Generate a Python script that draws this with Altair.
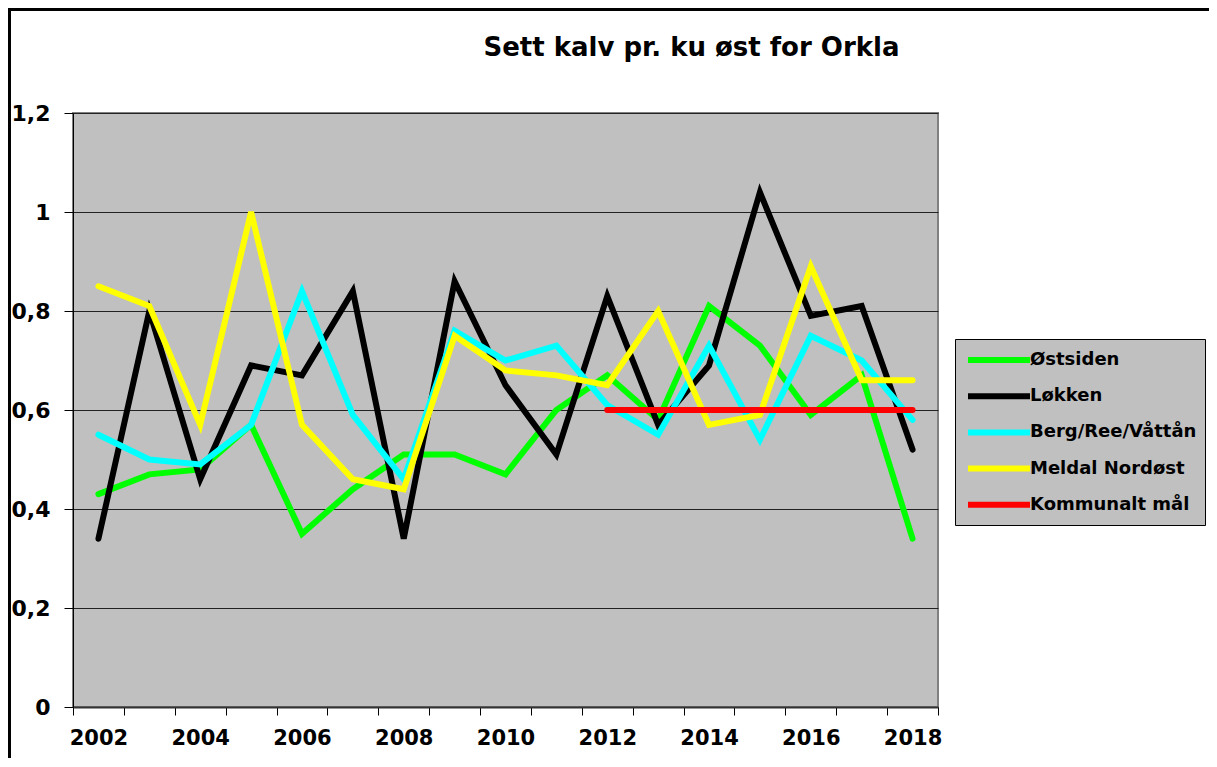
import altair as alt
import pandas as pd

years = [str(y) for y in range(2002, 2019)]
series_names = ["Østsiden", "Løkken", "Berg/Ree/Våttån", "Meldal Nordøst", "Kommunalt mål"]
series_colors = ["#00ff00", "#000000", "#00ffff", "#ffff00", "#ff0000"]

ostsiden = [0.43, 0.47, 0.48, 0.57, 0.35, 0.44, 0.51, 0.51, 0.47, 0.60, 0.67, 0.58, 0.81, 0.73, 0.59, 0.67, 0.34]
lokken = [0.34, 0.80, 0.46, 0.69, 0.67, 0.84, 0.34, 0.86, 0.65, 0.51, 0.83, 0.57, 0.69, 1.04, 0.79, 0.81, 0.52]
berg = [0.55, 0.50, 0.49, 0.57, 0.84, 0.59, 0.46, 0.76, 0.70, 0.73, 0.61, 0.55, 0.73, 0.54, 0.75, 0.70, 0.58]
meldal = [0.85, 0.81, 0.57, 1.00, 0.57, 0.46, 0.44, 0.75, 0.68, 0.67, 0.65, 0.80, 0.57, 0.59, 0.89, 0.66, 0.66]
maal = [None] * 10 + [0.6] * 7

y_ticks = [0, 0.2, 0.4, 0.6, 0.8, 1.0, 1.2]
title_text = "Sett kalv pr. ku øst for Orkla"

rows = []
for name, vals in zip(series_names, [ostsiden, lokken, berg, meldal, maal]):
    for yr, v in zip(years, vals):
        if v is not None:
            rows.append({"year": yr, "value": v, "series": name})
df = pd.DataFrame(rows)

FONT = "DejaVu Sans"

x_enc = alt.X(
    "year:O",
    scale=alt.Scale(type="band", domain=years, paddingInner=0, paddingOuter=0),
    axis=alt.Axis(
        title=None,
        tickBand="extent",
        labelAngle=0,
        labelExpr="toNumber(datum.value) % 2 == 0 ? datum.value : ''",
        labelFont=FONT,
        labelFontWeight="bold",
        labelColor="#000000",
        labelFontSize=21,
        labelPadding=12,
        tickSize=8,
        tickColor="#000000",
        domainColor="#333333",
        domainWidth=2,
        grid=False,
        labelOverlap=False,
    ),
)
y_enc = alt.Y(
    "value:Q",
    scale=alt.Scale(domain=[0, 1.2], nice=False, zero=True),
    axis=alt.Axis(
        title=None,
        values=y_ticks,
        labelExpr="replace(format(datum.value, '.1~f'), '.', ',')",
        labelFont=FONT,
        labelFontWeight="bold",
        labelColor="#000000",
        labelFontSize=22,
        labelPadding=14,
        tickSize=9,
        tickColor="#000000",
        domainColor="#000000",
        domainWidth=1,
        grid=True,
        gridColor="#222222",
        gridWidth=1,
    ),
)
color_enc = alt.Color(
    "series:N",
    scale=alt.Scale(domain=series_names, range=series_colors),
    legend=alt.Legend(
        title=None,
        orient="none",
        legendX=882,
        legendY=226,
        direction="vertical",
        fillColor="#c0c0c0",
        strokeColor="#000000",
        padding=8,
        symbolType="M-0.8,0H5.4",
        symbolSize=400,
        symbolStrokeWidth=6,
        labelOffset=41,
        rowPadding=11.2,
        labelFont=FONT,
        labelFontWeight="bold",
        labelFontSize=18,
        labelColor="#000000",
        labelLimit=300,
    ),
)

layers = []
for name in series_names:
    layers.append(
        alt.Chart(df)
        .transform_filter(alt.datum.series == name)
        .mark_line(strokeWidth=6, strokeCap="round", strokeJoin="miter")
        .encode(x=x_enc, y=y_enc, color=color_enc)
    )

border_df = pd.DataFrame({"k": [0]})
top_border = alt.Chart(border_df).mark_rule(color="#000000", strokeWidth=3).encode(
    x=alt.value(-66), x2=alt.value(1140), y=alt.value(-103.5)
)
left_border = alt.Chart(border_df).mark_rule(color="#000000", strokeWidth=3).encode(
    x=alt.value(-63.5), y=alt.value(-105), y2=alt.value(660)
)

chart = (
    alt.layer(*layers, top_border, left_border)
    .properties(
        width=865,
        height=594,
        autosize=alt.AutoSizeParams(type="none"),
        padding={"left": 65, "top": 105, "right": 271, "bottom": 51},
        title=alt.TitleParams(
            text=title_text,
            font=FONT,
            fontSize=26,
            fontWeight="bold",
            color="#000000",
            anchor="middle",
            frame="group",
            dx=186,
            dy=75,
            offset=0,
            baseline="alphabetic",
        ),
    )
    .configure_view(fill="#c0c0c0", stroke="#808080", strokeWidth=2)
)

chart.save("out.html", embed_options={"renderer": "svg", "actions": False})
